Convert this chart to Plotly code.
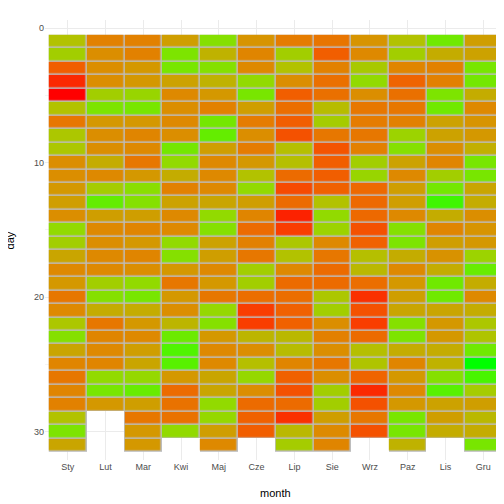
import plotly.graph_objects as go
import numpy as np

months = ["Sty","Lut","Mar","Kwi","Maj","Cze","Lip","Sie","Wrz","Paz","Lis","Gru"]
days = list(range(1, 32))
N = None
# rows = days 1..31, columns = months
values = [
 [40,67,67,52,25,57,70,73,57,40,18,52],
 [35,60,67,22,45,65,35,82,63,35,47,50],
 [82,60,55,20,25,63,40,67,37,65,67,20],
 [94,60,55,50,45,30,60,75,30,80,67,19],
 [100,35,32,63,55,20,82,75,60,75,22,47],
 [40,22,20,60,67,52,76,42,72,72,18,63],
 [72,55,55,63,19,70,82,36,70,67,50,57],
 [38,60,65,60,15,60,86,72,72,33,50,55],
 [38,60,63,19,52,70,41,85,68,25,60,46],
 [60,47,72,30,63,55,41,82,35,50,65,20],
 [60,63,55,47,63,40,77,82,32,63,35,20],
 [55,36,27,67,63,30,88,81,78,52,19,49],
 [52,15,25,50,49,52,77,40,78,52,8,47],
 [60,52,52,63,30,65,95,30,78,63,47,60],
 [30,63,65,63,25,77,91,33,86,25,65,57],
 [35,60,55,30,50,67,38,63,81,22,52,55],
 [49,63,65,25,52,72,40,72,41,47,58,33],
 [63,63,60,55,63,35,63,77,43,63,47,16],
 [55,35,30,72,55,35,77,77,76,55,18,47],
 [72,25,20,55,72,76,76,38,93,52,18,63],
 [63,47,47,60,31,91,81,35,86,49,49,47],
 [38,72,55,44,25,91,81,60,91,25,55,38],
 [25,65,63,17,55,44,43,68,77,22,55,39],
 [49,63,52,10,63,60,42,60,41,47,47,18],
 [65,65,49,12,63,41,65,72,39,65,45,0],
 [72,30,31,55,49,31,81,60,80,55,25,9],
 [65,20,16,77,49,60,86,35,94,63,12,36],
 [67,55,52,74,30,77,77,35,86,55,50,52],
 [40,N,72,74,31,81,93,52,72,20,52,43],
 [22,N,55,30,52,82,43,62,86,20,47,47],
 [49,N,55,N,63,N,36,65,N,45,N,20],
]

z = np.array([[np.nan if v is None else v for v in row] for row in values], dtype=float)
mask = np.where(np.isnan(z), np.nan, 1.0)

cs = [[0.0,"#00ff00"],[0.1,"#50f400"],[0.2,"#78e600"],[0.3,"#92da00"],[0.4,"#b2c200"],
      [0.5,"#cca200"],[0.6,"#db8e00"],[0.7,"#e57c00"],[0.8,"#ef6400"],[0.9,"#f84400"],[1.0,"#ff0000"]]

fig = go.Figure()
fig.add_trace(go.Heatmap(x=months, y=days, z=mask, colorscale=[[0,"#bdbdbd"],[1,"#bdbdbd"]],
                         showscale=False, hoverinfo="skip"))
fig.add_trace(go.Heatmap(x=months, y=days, z=z, colorscale=cs, zmin=0, zmax=100,
                         xgap=1.5, ygap=1.5, showscale=False))
fig.update_layout(
    width=504, height=504, margin=dict(l=37, r=6, t=12, b=52),
    paper_bgcolor="white", plot_bgcolor="white",
    font=dict(family="Liberation Sans, Arial", size=9, color="#4d4d4d"),
    xaxis=dict(range=[-0.6, 11.6], showgrid=True, gridcolor="#ebebeb", zeroline=False,
               automargin=False, ticks="", tickfont=dict(size=9, color="#4d4d4d")),
    yaxis=dict(range=[32.1, -0.6], tickvals=[0,10,20,30], showgrid=True, gridcolor="#ebebeb",
               zeroline=False, automargin=False,
               minor=dict(tickvals=[5,15,25], showgrid=True, gridcolor="#f4f4f4"),
               ticks="", tickfont=dict(size=9, color="#4d4d4d")),
    annotations=[
        dict(text="month", x=0.5, y=-0.075, xref="paper", yref="paper", showarrow=False,
             font=dict(size=11, color="black"), xanchor="center", yanchor="middle"),
        dict(text="day", x=-0.075, y=0.5, xref="paper", yref="paper", showarrow=False,
             textangle=-90, font=dict(size=11, color="black"), xanchor="center", yanchor="middle"),
    ],
)
fig.write_html("out.html")
